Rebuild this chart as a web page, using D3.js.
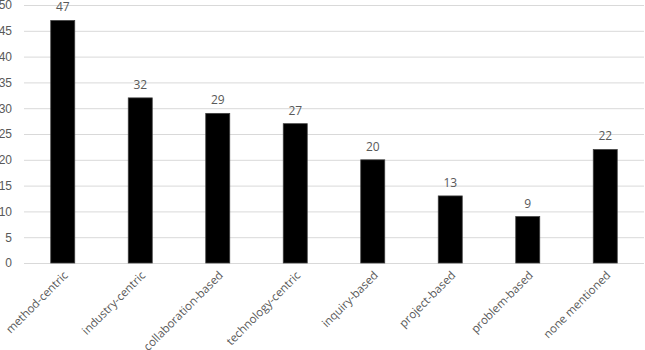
<!DOCTYPE html>
<html>
<head>
<meta charset="utf-8">
<script src="https://cdn.jsdelivr.net/npm/d3@7"></script>
<style>
  body { margin: 0; background: #fff; }
  svg { display: block; font-family: 'Open Sans', sans-serif; }
</style>
</head>
<body>
<div id="viz"></div>
<script>
const categories = ['method-centric', 'industry-centric', 'collaboration-based', 'technology-centric',
    'inquiry-based', 'project-based', 'problem-based', 'none mentioned']
const counts = [47, 32, 29, 27, 20, 13, 9, 22]
const yTicks = [0, 5, 10, 15, 20, 25, 30, 35, 40, 45, 50]

const data = categories.map((c, i) => ({ name: c, value: counts[i] }))

render = (data) => {
    const w = 645, h = 350
    const margin = { top: 5, right: 1, bottom: 87, left: 24 }
    const innerWidth = w - margin.left - margin.right
    const innerHeight = h - margin.top - margin.bottom

    const svg = d3.select('#viz')
        .append('svg')
        .attr('width', w)
        .attr('height', h)

    const g = svg.append('g')
        .attr('transform', `translate(${margin.left}, ${margin.top})`)

    const y = d3.scaleLinear()
        .domain([0, 50])
        .range([innerHeight, 0])

    const x = d3.scaleBand()
        .domain(categories)
        .range([0, innerWidth])
        .paddingInner(0.69)
        .paddingOuter(0.345)

    // gridlines + tick labels
    const yAxisG = g.append('g')
        .call(d3.axisLeft(y).tickValues(yTicks).tickSize(-innerWidth).tickPadding(12))
    yAxisG.select('.domain').remove()
    yAxisG.selectAll('.tick line')
        .attr('stroke', '#d9d9d9')
        .attr('stroke-width', 1)
    yAxisG.selectAll('.tick text')
        .attr('fill', '#595959')
        .style('font-size', '12px')

    g.selectAll('rect.bar')
        .data(data)
        .enter()
        .append('rect')
        .attr('class', 'bar')
        .attr('x', d => x(d.name))
        .attr('y', d => y(d.value))
        .attr('width', x.bandwidth())
        .attr('height', d => y(0) - y(d.value))
        .attr('fill', '#000')
        .attr('stroke', '#404040')
        .attr('stroke-width', 0.75)

    g.selectAll('text.val')
        .data(data)
        .enter()
        .append('text')
        .attr('class', 'val')
        .attr('x', d => x(d.name) + x.bandwidth() / 2)
        .attr('y', d => y(d.value) - 9)
        .attr('text-anchor', 'middle')
        .attr('fill', '#595959')
        .style('font-size', '12px')
        .text(d => d.value)

    g.selectAll('text.cat')
        .data(data)
        .enter()
        .append('text')
        .attr('class', 'cat')
        .attr('transform', d => `translate(${x(d.name) + x.bandwidth() / 2 + 6}, ${innerHeight + 13}) rotate(-45)`)
        .attr('text-anchor', 'end')
        .attr('fill', '#595959')
        .style('font-size', '11.5px')
        .text(d => d.name)
}

render(data)
</script>
</body>
</html>
